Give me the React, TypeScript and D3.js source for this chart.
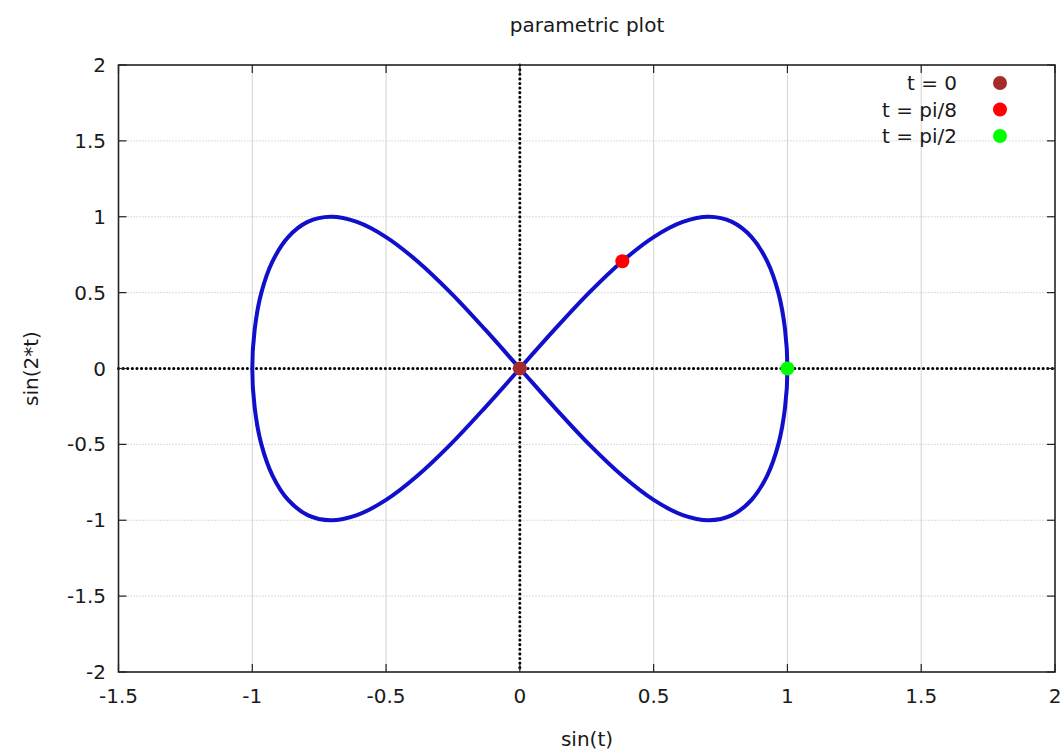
import React from "react";
import * as d3 from "d3";

// Curve samples: x = sin(t), y = sin(2t), read around the closed figure-eight
const curveX = [
  0, 0.131, 0.259, 0.383, 0.5, 0.609, 0.707, 0.793, 0.866, 0.924, 0.966, 0.991,
  1, 0.991, 0.966, 0.924, 0.866, 0.793, 0.707, 0.609, 0.5, 0.383, 0.259, 0.131,
  0, -0.131, -0.259, -0.383, -0.5, -0.609, -0.707, -0.793, -0.866, -0.924, -0.966, -0.991,
  -1, -0.991, -0.966, -0.924, -0.866, -0.793, -0.707, -0.609, -0.5, -0.383, -0.259, -0.131, 0,
];
const curveY = [
  0, 0.259, 0.5, 0.707, 0.866, 0.966, 1, 0.966, 0.866, 0.707, 0.5, 0.259,
  0, -0.259, -0.5, -0.707, -0.866, -0.966, -1, -0.966, -0.866, -0.707, -0.5, -0.259,
  0, 0.259, 0.5, 0.707, 0.866, 0.966, 1, 0.966, 0.866, 0.707, 0.5, 0.259,
  0, -0.259, -0.5, -0.707, -0.866, -0.966, -1, -0.966, -0.866, -0.707, -0.5, -0.259, 0,
];

// Highlighted parameter values
const markerLabels = ["t = 0", "t = pi/8", "t = pi/2"];
const markerX = [0, 0.383, 1];
const markerY = [0, 0.707, 0];
const markerColors = ["#a52a2a", "#ff0000", "#00ff00"];

const xTicks = [-1.5, -1, -0.5, 0, 0.5, 1, 1.5, 2];
const yTicks = [-2, -1.5, -1, -0.5, 0, 0.5, 1, 1.5, 2];

const W = 1064;
const H = 751;
const left = 118.5;
const right = 1055;
const top = 65;
const bottom = 672;

const font = "'DejaVu Sans', Verdana, sans-serif";
const fs = 20;
const ink = "#1a1a1a";

export default function App() {
  const x = d3.scaleLinear().domain([-1.5, 2]).range([left, right]);
  const y = d3.scaleLinear().domain([-2, 2]).range([bottom, top]);

  const pts: [number, number][] = curveX.map((v, i) => [v, curveY[i]]);
  const line = d3
    .line<[number, number]>()
    .x((d) => x(d[0]))
    .y((d) => y(d[1]))
    .curve(d3.curveCatmullRom.alpha(0.5));

  const fmt = (v: number) => String(v);
  const tickLen = 8;

  return (
    <svg
      width={W}
      height={H}
      style={{ position: "absolute", left: 0, top: 0, background: "#fff" }}
    >
      <rect x={0} y={0} width={W} height={H} fill="#fff" />

      {/* grid */}
      {xTicks
        .filter((v) => v !== 0 && v !== -1.5 && v !== 2)
        .map((v) => (
          <line
            key={"gx" + v}
            x1={x(v)}
            x2={x(v)}
            y1={top}
            y2={bottom}
            stroke="#d4d4d4"
            strokeWidth={1}
          />
        ))}
      {yTicks
        .filter((v) => v !== 0 && v !== -2 && v !== 2)
        .map((v) => (
          <line
            key={"gy" + v}
            x1={left}
            x2={right}
            y1={y(v)}
            y2={y(v)}
            stroke="#b8b8b8"
            strokeWidth={1}
            strokeDasharray="1 2"
          />
        ))}

      {/* zero axes */}
      <line
        x1={x(0)}
        x2={x(0)}
        y1={top}
        y2={bottom}
        stroke="#000"
        strokeWidth={3}
        strokeDasharray="0.1 4.5"
        strokeLinecap="round"
      />
      <line
        x1={left}
        x2={right}
        y1={y(0)}
        y2={y(0)}
        stroke="#000"
        strokeWidth={3}
        strokeDasharray="0.1 4.5"
        strokeLinecap="round"
      />

      {/* frame */}
      <rect
        x={left}
        y={top}
        width={right - left}
        height={bottom - top}
        fill="none"
        stroke="#222"
        strokeWidth={1.6}
      />

      {/* ticks */}
      {xTicks.map((v) => (
        <g key={"tx" + v}>
          <line x1={x(v)} x2={x(v)} y1={bottom} y2={bottom - tickLen} stroke="#222" strokeWidth={1.2} />
          <line x1={x(v)} x2={x(v)} y1={top} y2={top + tickLen} stroke="#222" strokeWidth={1.2} />
          <text
            x={x(v)}
            y={bottom + 31}
            textAnchor="middle"
            fontFamily={font}
            fontSize={fs}
            fill={ink}
          >
            {fmt(v)}
          </text>
        </g>
      ))}
      {yTicks.map((v) => (
        <g key={"ty" + v}>
          <line x1={left} x2={left + tickLen} y1={y(v)} y2={y(v)} stroke="#222" strokeWidth={1.2} />
          <line x1={right} x2={right - tickLen} y1={y(v)} y2={y(v)} stroke="#222" strokeWidth={1.2} />
          <text
            x={106}
            y={y(v) + 7}
            textAnchor="end"
            fontFamily={font}
            fontSize={fs}
            fill={ink}
          >
            {fmt(v)}
          </text>
        </g>
      ))}

      {/* curve */}
      <path
        d={line(pts) || ""}
        fill="none"
        stroke="#1010cc"
        strokeWidth={4}
        strokeLinejoin="round"
      />

      {/* markers */}
      {markerX.map((v, i) => (
        <circle key={"m" + i} cx={x(v)} cy={y(markerY[i])} r={7} fill={markerColors[i]} />
      ))}

      {/* legend */}
      {markerLabels.map((lbl, i) => {
        const cy = 83 + i * 26.5;
        return (
          <g key={"lg" + i}>
            <text
              x={957}
              y={cy + 7}
              textAnchor="end"
              fontFamily={font}
              fontSize={fs}
              fill={ink}
            >
              {lbl}
            </text>
            <circle cx={1000} cy={cy} r={7} fill={markerColors[i]} />
          </g>
        );
      })}

      {/* titles */}
      <text x={587} y={32} textAnchor="middle" fontFamily={font} fontSize={fs} fill={ink}>
        parametric plot
      </text>
      <text x={587} y={746} textAnchor="middle" fontFamily={font} fontSize={fs} fill={ink}>
        sin(t)
      </text>
      <text
        transform={`translate(38,${y(0)}) rotate(-90)`}
        textAnchor="middle"
        fontFamily={font}
        fontSize={fs}
        fill={ink}
      >
        sin(2*t)
      </text>
    </svg>
  );
}
